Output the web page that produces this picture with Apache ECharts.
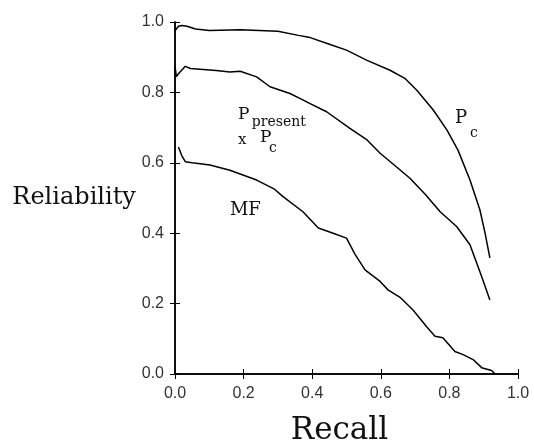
<!DOCTYPE html>
<html>
<head>
<meta charset="utf-8">
<script src="https://cdn.jsdelivr.net/npm/echarts@6/dist/echarts.min.js"></script>
<style>
  html, body { margin: 0; padding: 0; background: #fff; }
  #chart { width: 534px; height: 440px; }
</style>
</head>
<body>
<div id="chart"></div>
<script>
// recall / reliability points
const pcCurve = [
  [0, 0.975], [0.01, 0.988], [0.02, 0.99], [0.035, 0.988], [0.06, 0.98], [0.1, 0.976],
  [0.19, 0.978], [0.3, 0.974], [0.36, 0.962], [0.39, 0.957], [0.45, 0.937], [0.5, 0.92],
  [0.56, 0.891], [0.627, 0.863], [0.67, 0.84], [0.705, 0.806], [0.753, 0.75], [0.793, 0.693],
  [0.825, 0.636], [0.86, 0.551], [0.889, 0.466], [0.904, 0.40], [0.918, 0.33]
];
const presentCurve = [
  [0, 0.875], [0.004, 0.845], [0.012, 0.855], [0.03, 0.874], [0.045, 0.868], [0.073, 0.866],
  [0.12, 0.862], [0.16, 0.858], [0.19, 0.86], [0.238, 0.844], [0.277, 0.816], [0.335, 0.797],
  [0.364, 0.783], [0.394, 0.768], [0.442, 0.745], [0.51, 0.698], [0.56, 0.665], [0.598, 0.627],
  [0.64, 0.593], [0.685, 0.556], [0.73, 0.51], [0.773, 0.461], [0.821, 0.419], [0.86, 0.367],
  [0.894, 0.277], [0.918, 0.21]
];
const mfCurve = [
  [0.01, 0.645], [0.02, 0.62], [0.03, 0.603], [0.05, 0.6], [0.102, 0.594], [0.16, 0.579],
  [0.238, 0.551], [0.29, 0.525], [0.315, 0.504], [0.373, 0.461], [0.418, 0.415], [0.461, 0.40],
  [0.5, 0.386], [0.525, 0.34], [0.554, 0.296], [0.598, 0.263], [0.621, 0.239], [0.656, 0.218],
  [0.694, 0.182], [0.733, 0.135], [0.758, 0.107], [0.781, 0.103], [0.816, 0.064], [0.84, 0.055],
  [0.869, 0.041], [0.894, 0.018], [0.923, 0.01], [0.933, 0.0]
];
const tickValues = [0, 0.2, 0.4, 0.6, 0.8, 1.0];

// curve labels, placed in data coordinates
const curveLabels = [
  { text: 'P', at: [0.184, 0.738], size: 17 },
  { text: 'present', at: [0.224, 0.716], size: 14 },
  { text: 'x', at: [0.184, 0.665], size: 15 },
  { text: 'P', at: [0.248, 0.672], size: 17 },
  { text: 'c', at: [0.274, 0.642], size: 14 },
  { text: 'P', at: [0.816, 0.725], size: 18 },
  { text: 'c', at: [0.860, 0.683], size: 14 },
  { text: 'MF', at: [0.160, 0.465], size: 18 }
];

const chart = echarts.init(document.getElementById('chart'));

const serif = 'DejaVu Serif';
const axisLine = { show: true, lineStyle: { color: '#000', width: 1.5 } };
const ticks = { show: true, inside: true, length: 5, lineStyle: { color: '#000', width: 1 } };
const fmt = v => tickValues.includes(+v.toFixed(1)) ? v.toFixed(1) : '';

const line = data => ({
  type: 'line',
  data: data,
  symbol: 'none',
  smooth: false,
  lineStyle: { color: '#000', width: 1.5 },
  silent: true
});

chart.setOption({
  animation: false,
  grid: { left: 175, right: 16, top: 22, bottom: 66, outerBoundsMode: 'none' },
  xAxis: [
    {
      type: 'value', min: 0, max: 1, interval: 0.2,
      axisLine: axisLine, axisTick: ticks, splitLine: { show: false },
      axisLabel: { formatter: fmt, color: '#333', fontFamily: 'Liberation Sans', fontSize: 16, margin: 12 },
      name: 'Recall', nameLocation: 'middle', nameGap: 41,
      nameTextStyle: { fontFamily: serif, fontSize: 31, color: '#111', padding: [0, 14, 0, 0] }
    },
    {
      type: 'value', min: 0, max: 1, interval: 0.2, position: 'top',
      axisLine: axisLine, axisTick: ticks, splitLine: { show: false }, axisLabel: { show: false }
    }
  ],
  yAxis: [
    {
      type: 'value', min: 0, max: 1, interval: 0.2,
      axisLine: axisLine, axisTick: ticks, splitLine: { show: false },
      axisLabel: { formatter: fmt, color: '#333', fontFamily: 'Liberation Sans', fontSize: 16, margin: 11 },
      name: 'Reliability', nameLocation: 'middle', nameRotate: 0, nameGap: 35,
      nameTextStyle: { fontFamily: serif, fontSize: 24, color: '#111', align: 'right' }
    },
    {
      type: 'value', min: 0, max: 1, interval: 0.2, position: 'right',
      axisLine: axisLine, axisTick: ticks, splitLine: { show: false }, axisLabel: { show: false }
    }
  ],
  series: [line(pcCurve), line(presentCurve), line(mfCurve)]
});

chart.setOption({
  graphic: curveLabels.map(l => {
    const p = chart.convertToPixel({ xAxisIndex: 0, yAxisIndex: 0 }, l.at);
    return {
      type: 'text',
      x: p[0], y: p[1],
      silent: true,
      style: {
        text: l.text, fill: '#111',
        font: l.size + 'px "' + serif + '"',
        align: 'left', verticalAlign: 'middle'
      }
    };
  })
});
</script>
</body>
</html>
